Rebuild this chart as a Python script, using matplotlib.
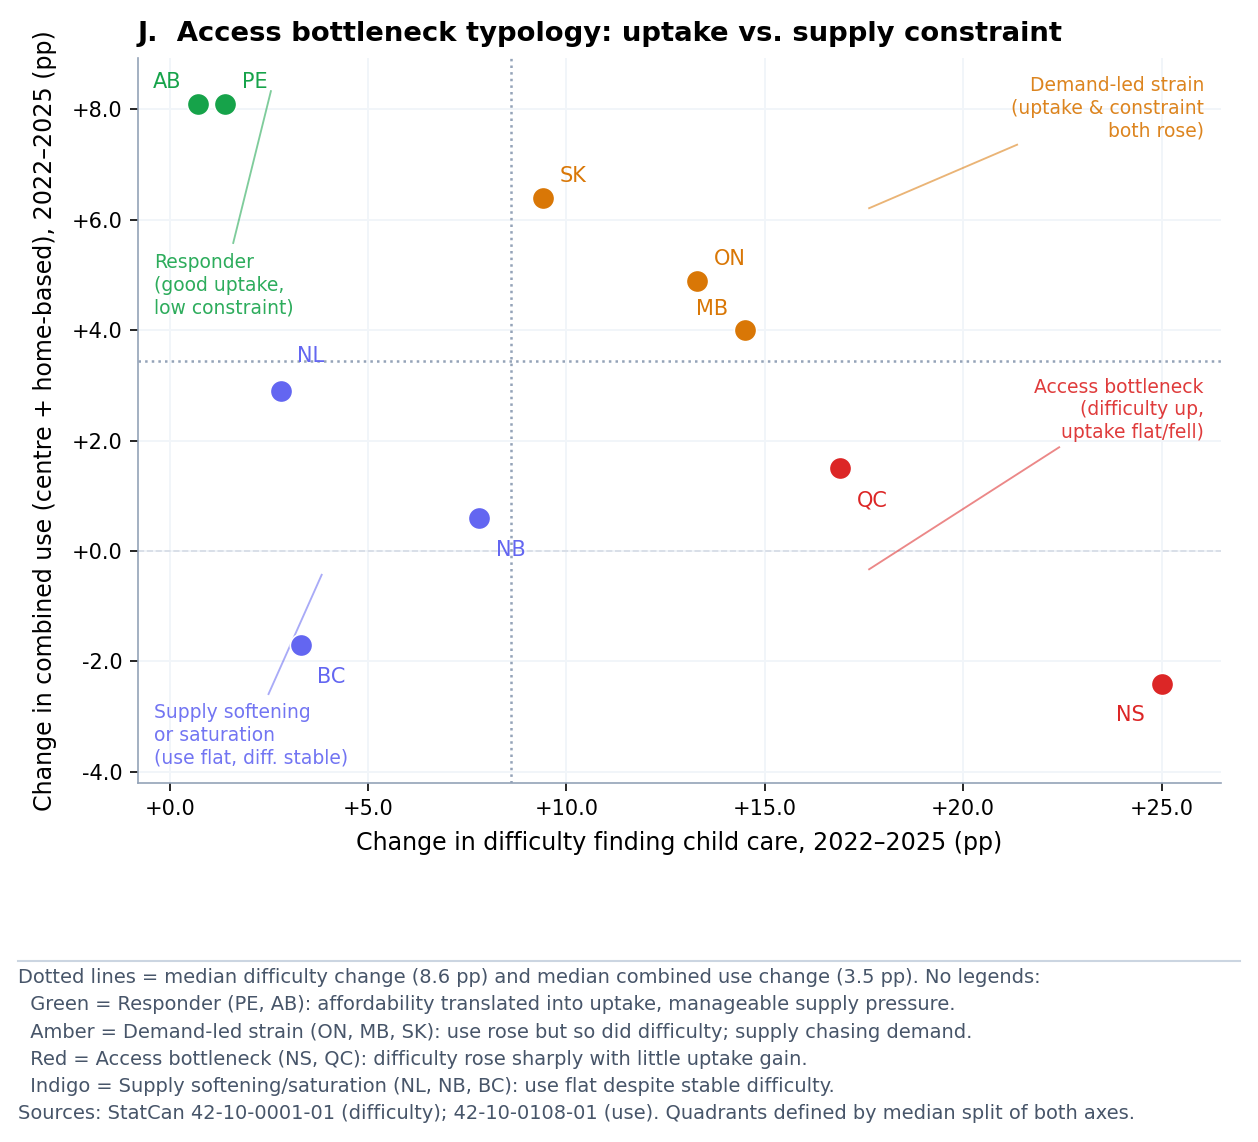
import numpy as np
import matplotlib
matplotlib.use("Agg")
import matplotlib.pyplot as plt

# ---------------- data ----------------
provinces = ["AB", "PE", "NL", "BC", "NB", "SK", "ON", "MB", "QC", "NS"]
diff_change = [0.7, 1.4, 2.8, 3.3, 7.8, 9.4, 13.3, 14.5, 16.9, 25.0]
use_change = [8.1, 8.1, 2.9, -1.7, 0.6, 6.4, 4.9, 4.0, 1.5, -2.4]
group = ["resp", "resp", "soft", "soft", "soft", "strain", "strain", "strain", "bottle", "bottle"]

colors = {"resp": "#16a34a", "strain": "#d97706", "bottle": "#dc2626", "soft": "#6366f1"}

# label placement: (dx pt, dy pt, ha, va)
label_pos = {
    "AB": (-8, 5.5, "right", "bottom"),
    "PE": (8, 5.5, "left", "bottom"),
    "SK": (8, 5.5, "left", "bottom"),
    "ON": (8, 5.5, "left", "bottom"),
    "MB": (-8, 5.5, "right", "bottom"),
    "NL": (8, 12, "left", "bottom"),
    "NB": (8, -10.5, "left", "top"),
    "BC": (8, -10.5, "left", "top"),
    "QC": (8, -10.5, "left", "top"),
    "NS": (-8, -10.5, "right", "top"),
}

# quadrant notes: text, text xy, line start, line end, ha, group
notes = [
    ("Responder\n(good uptake,\nlow constraint)", (-0.4, 5.40), (1.6, 5.58), (2.55, 8.33), "left", "resp"),
    ("Demand-led strain\n(uptake & constraint\nboth rose)", (26.07, 8.60), (17.63, 6.21), (21.36, 7.36), "right", "strain"),
    ("Access bottleneck\n(difficulty up,\nuptake flat/fell)", (26.07, 3.14), (17.63, -0.33), (22.42, 1.88), "right", "bottle"),
    ("Supply softening\nor saturation\n(use flat, diff. stable)", (-0.4, -2.76), (2.49, -2.59), (3.83, -0.43), "left", "soft"),
]

med_x = np.median(diff_change)
med_y = np.median(use_change)

# ---------------- plotting ----------------
fig = plt.figure(figsize=(1258 / 150, 1142 / 150), dpi=150)
ax = fig.add_axes([0.1097, 0.3144, 0.8609, 0.6348])

ax.set_xlim(-0.8, 26.5)
ax.set_ylim(-4.2, 8.93)
ax.set_xticks([0, 5, 10, 15, 20, 25])
ax.set_yticks([-4, -2, 0, 2, 4, 6, 8])
ax.xaxis.set_major_formatter(matplotlib.ticker.FuncFormatter(lambda v, p: f"{v:+.1f}"))
ax.yaxis.set_major_formatter(matplotlib.ticker.FuncFormatter(lambda v, p: f"{v:+.1f}"))
ax.tick_params(labelsize=10, length=4)
ax.grid(True, color="#f1f5f9", linewidth=0.9, zorder=0)
ax.set_axisbelow(True)

for s in ["top", "right"]:
    ax.spines[s].set_visible(False)
for s in ["left", "bottom"]:
    ax.spines[s].set_color("#94a3b8")

ax.axhline(0, color="#d5dbe5", linestyle="--", linewidth=0.8, zorder=1)
ax.axvline(med_x, color="#94a3b8", linestyle=":", linewidth=1.2, zorder=1)
ax.axhline(med_y, color="#94a3b8", linestyle=":", linewidth=1.2, zorder=1)

for p, x, y, g in zip(provinces, diff_change, use_change, group):
    c = colors[g]
    ax.scatter(x, y, s=115, color=c, edgecolor="white", linewidth=0.8, zorder=4)
    dx, dy, ha, va = label_pos[p]
    ax.annotate(p, (x, y), xytext=(dx, dy), textcoords="offset points",
                ha=ha, va=va, fontsize=10, color=c, zorder=5)

for txt, txy, l0, l1, ha, g in notes:
    c = colors[g]
    ax.plot([l0[0], l1[0]], [l0[1], l1[1]], color=c, alpha=0.55, linewidth=0.9, zorder=2)
    ax.text(txy[0], txy[1], txt, ha=ha, va="top", fontsize=9, color=c, alpha=0.9,
            linespacing=1.25, zorder=3)

ax.set_xlabel("Change in difficulty finding child care, 2022\u20132025 (pp)", fontsize=11.4, labelpad=6)
ax.set_ylabel("Change in combined use (centre + home-based), 2022\u20132025 (pp)", fontsize=11.4, labelpad=7)
ax.set_title("J.  Access bottleneck typology: uptake vs. supply constraint",
             loc="left", fontsize=13.2, fontweight="bold", pad=8)

# footnote
fig.add_artist(plt.Line2D([0.0143, 0.9857], [1 - 961 / 1142] * 2, color="#cbd5e1",
                          linewidth=1.0, transform=fig.transFigure))
footnote = (
    f"Dotted lines = median difficulty change ({med_x:.1f} pp) and median combined use change ({med_y:.1f} pp). No legends:\n"
    "  Green = Responder (PE, AB): affordability translated into uptake, manageable supply pressure.\n"
    "  Amber = Demand-led strain (ON, MB, SK): use rose but so did difficulty; supply chasing demand.\n"
    "  Red = Access bottleneck (NS, QC): difficulty rose sharply with little uptake gain.\n"
    "  Indigo = Supply softening/saturation (NL, NB, BC): use flat despite stable difficulty.\n"
    "Sources: StatCan 42-10-0001-01 (difficulty); 42-10-0108-01 (use). Quadrants defined by median split of both axes."
)
fig.text(0.0143, 1 - 968 / 1142, footnote, ha="left", va="top", fontsize=9.3,
         color="#475569", linespacing=1.55)

fig.savefig("out.png", dpi=150)
